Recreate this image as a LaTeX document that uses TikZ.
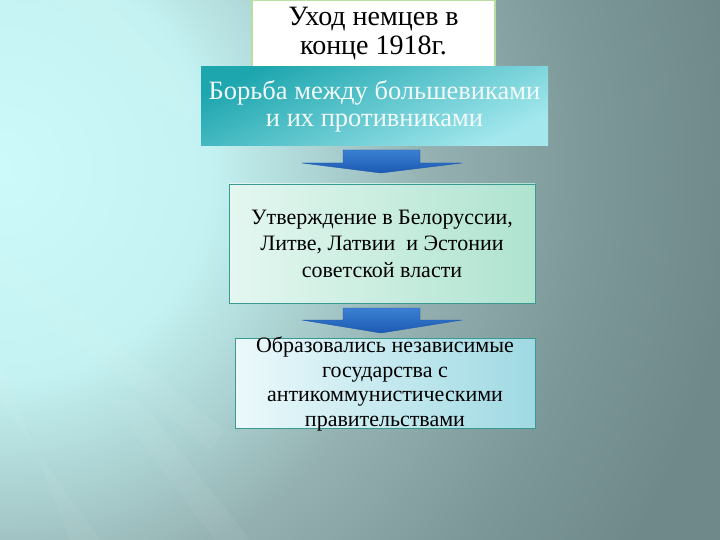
\documentclass[tikz,border=0pt]{standalone}
\usepackage{fontspec}
\setmainfont{Liberation Serif}
\definecolor{bgC0}{HTML}{CCFAFA}
\definecolor{bgC1}{HTML}{C4F2F2}
\definecolor{bgC2}{HTML}{ACD2D2}
\definecolor{bgC3}{HTML}{94B0B0}
\definecolor{bgC4}{HTML}{7D9898}
\definecolor{bgC5}{HTML}{6F898A}
\definecolor{tealD}{HTML}{1EA6AF}
\definecolor{tealL}{HTML}{A4E8EE}
\definecolor{mintL}{HTML}{E4F7F0}
\definecolor{mintR}{HTML}{AFE3CF}
\definecolor{iceL}{HTML}{ECF9FB}
\definecolor{iceR}{HTML}{9FD9E3}
\definecolor{arrTop}{HTML}{3A80D2}
\definecolor{arrBot}{HTML}{1C5AB2}
\definecolor{edgeT}{HTML}{3A9A90}
\definecolor{edgeG}{HTML}{B8DFA0}
\definecolor{softwhite}{HTML}{F2FAFA}
\pgfdeclareradialshading{bgglow}{\pgfpoint{0bp}{0bp}}{color(0bp)=(bgC0); color(6.5bp)=(bgC1); color(10bp)=(bgC2); color(13.5bp)=(bgC3); color(18.5bp)=(bgC4); color(23bp)=(bgC5); color(50bp)=(bgC5)}
\tikzset{
  boxone/.style={draw=edgeG, line width=1.5pt, fill=white, minimum width=243pt, minimum height=67pt, inner sep=0pt,
    font=\fontsize{28}{29}\selectfont, align=center},
  boxtwo/.style={top color=tealD, bottom color=tealL, shading angle=25, minimum width=347pt, minimum height=79pt, inner sep=0pt,
    text=softwhite, font=\fontsize{26.5}{27.5}\selectfont, align=center},
  boxthree/.style={draw=edgeT, line width=0.8pt, left color=mintL, right color=mintR, minimum width=306pt, minimum height=119pt, inner sep=0pt,
    font=\fontsize{22}{26.5}\selectfont, align=center},
  boxfour/.style={draw=edgeT, line width=0.8pt, left color=iceL, right color=iceR, minimum width=300pt, minimum height=90pt, inner sep=0pt},
  boxfourtext/.style={font=\fontsize{22}{24.5}\selectfont, align=center, inner sep=0pt},
  blockarrow/.style={top color=arrTop, bottom color=arrBot, draw=arrBot, line width=0.4pt},
  ray/.style={white, opacity=0.05}
}
\begin{document}
\begin{tikzpicture}[x=1pt,y=-1pt]
\useasboundingbox (0,0) rectangle (720,540);
% background
\begin{scope}
\clip (0,0) rectangle (720,540);
\shade[shading=bgglow] (-800,-630) rectangle (800,970);
\fill[ray] (0,360) -- (0,400) -- (100,540) -- (70,540) -- cycle;
\fill[ray] (110,400) -- (140,400) -- (250,540) -- (215,540) -- cycle;
\fill[ray] (0,250) -- (0,280) -- (210,450) -- (225,430) -- cycle;
\fill[ray] (60,0) -- (110,0) -- (200,100) -- (190,120) -- cycle;
\end{scope}
% boxes
\node[boxone] (n1) at (373.5,33.5) {Уход немцев в\\конце 1918г.};
\node[boxtwo] (n2) at (374.5,106.5) {Борьба между большевиками\\и их противниками};
\node[boxthree] (n3) at (382,243.5) {Утверждение в Белоруссии,\\Литве, Латвии \ и Эстонии\\советской власти};
\node[boxfour] (n4) at (385,383) {};
\node[boxfourtext] (t4) at (385,384) {Образовались независимые\\государства с\\антикоммунистическими\\правительствами};
% block arrows
\path[blockarrow] (343,150) -- (420,150) -- (420,163) -- (462,163) -- (381,173) -- (302,163) -- (343,163) -- cycle;
\path[blockarrow] (343,308) -- (420,308) -- (420,320) -- (462,320) -- (381,333) -- (302,320) -- (343,320) -- cycle;
\end{tikzpicture}
\end{document}
